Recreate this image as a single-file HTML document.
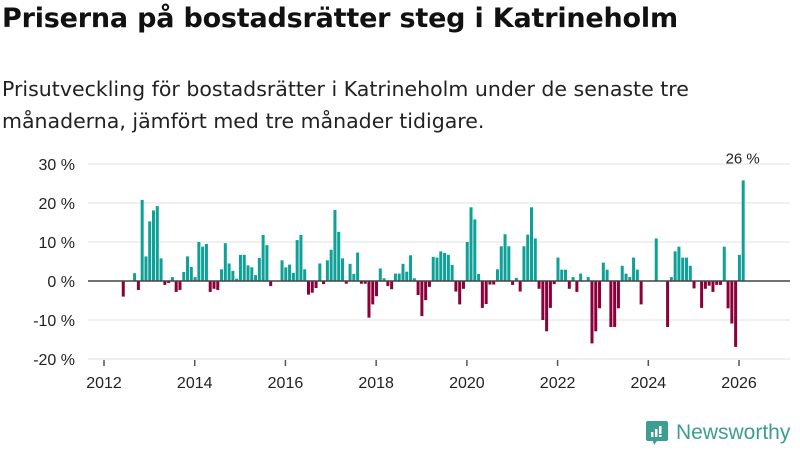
<!DOCTYPE html>
<html><head><meta charset="utf-8"><style>
body{margin:0;width:800px;height:450px;background:#fff;font-family:"DejaVu Sans","Liberation Sans",sans-serif;overflow:hidden;position:relative}
#title{position:absolute;left:2px;top:3px;font-size:27px;font-weight:bold;color:#111;margin:0;letter-spacing:-0.2px}
#sub{position:absolute;left:2px;top:73px;font-size:20.5px;line-height:32px;color:#222;margin:0;width:735px}
svg{position:absolute;left:0;top:0}
</style></head><body>
<h1 id="title">Priserna på bostadsrätter steg i Katrineholm</h1>
<p id="sub">Prisutveckling för bostadsrätter i Katrineholm under de senaste tre månaderna, jämfört med tre månader tidigare.</p>
<svg id="chart" width="800" height="450"></svg>
<script>
const startYear = 2012;
const values = [0,0,0,0,-4,0,0,2,-2.3,20.8,6.3,15.3,18.1,19.2,5.8,-1,-0.5,1,-2.8,-2.3,2.3,6.3,3.6,1,10,8.8,9.5,-2.8,-2,-2.3,3,9.7,4.5,2.6,0.6,6.7,6.7,4,3.5,1.5,5.9,11.8,9.2,-1.3,0,0,5.3,3.5,4.2,2.1,10.5,11.8,3,-3.5,-3,-1.8,4.5,-0.8,5.3,8,18.2,12.6,5.8,-0.7,4.4,1.8,7.3,-0.7,-0.7,-9.4,-6,-3.9,3.2,0.7,-1.3,-2.1,1.9,1.9,4.4,2.4,6.6,0.7,-3.6,-9,-4.9,-1.5,6.2,6,7.6,7.2,6.7,4.1,-2.7,-6,-2,10,18.9,15.8,1.8,-6.9,-5.9,-0.9,-0.9,3,8.9,12,8.9,-1,0.8,-2.7,8.9,11.9,18.9,10.9,-2,-10,-12.9,-6.9,-0.8,6,2.9,2.9,-2,1,-2.8,1.9,0,1,-16,-12.9,-7,4.7,2.9,-11.8,-11.8,-7,3.9,1.9,1,6,2.9,-6,0,0,0,10.9,0,0,-11.8,1,7.6,8.8,6,6,3.9,-1.9,0,-6.9,-2,-1.2,-2.8,-1,-1,8.8,-7,-10.9,-16.9,6.7,25.8];
const yTicks = [30,20,10,0,-10,-20];
const xTicks = [2012,2014,2016,2018,2020,2022,2024,2026];
const svg = document.getElementById('chart');
const NS = 'http://www.w3.org/2000/svg';
function y(v){return 281 - v*3.9;}
function x(yr){return 104 + (yr-2012)*45.36;}
function mk(tag, attrs){const e=document.createElementNS(NS,tag);for(const k in attrs)e.setAttribute(k,attrs[k]);svg.appendChild(e);return e;}
yTicks.forEach(t=>{
  const g = mk('line',{x1:88,x2:790,y1:y(t),y2:y(t),stroke:'#e0e0e0','stroke-width':1});
  
  
  const l = mk('text',{x:75,y:y(t)+6,'text-anchor':'end','font-size':16,fill:'#222','font-family':'Liberation Sans, sans-serif'});
  l.textContent = t + ' %';
  
  
});
xTicks.forEach(t=>{
  const tk = mk('line',{x1:x(t),x2:x(t),y1:360,y2:366,stroke:'#555','stroke-width':1.5});
  
  
  const l = mk('text',{x:x(t),y:388,'text-anchor':'middle','font-size':16,fill:'#222','font-family':'Liberation Sans, sans-serif'});
  l.textContent = t;
  
  
});
values.forEach((v,i)=>{
  if(v===0) return;
  const bx = x(startYear + (i+0.7)/12);
  const r = mk('rect',{x:bx,y:Math.min(y(v),y(0)),width:3,height:Math.abs(y(v)-y(0)),fill:v>0?'#0fa197':'#8c0039'});
  
  
});
const zl = mk('line',{x1:88,x2:790,y1:y(0),y2:y(0),stroke:'#444','stroke-width':1.5});


const li = values.length-1;
const lab = mk('text',{x:x(startYear+(li+0.7)/12)+1,y:y(values[li])-17,'text-anchor':'middle','font-size':15,fill:'#222','font-family':'Liberation Sans, sans-serif'});
lab.textContent = Math.round(values[li]) + ' %';


</script>
<div style="position:absolute;left:645px;top:420px;height:26px;display:flex;align-items:center">
<svg width="24" height="26" viewBox="0 0 24 26" style="position:static"><path d="M3 1h18a2 2 0 0 1 2 2v16a2 2 0 0 1-2 2H12l-3 4-1-4H3a2 2 0 0 1-2-2V3a2 2 0 0 1 2-2z" fill="#3a9e92"/><rect x="6" y="12" width="2.5" height="5" fill="#fff"/><rect x="10" y="9" width="2.5" height="8" fill="#fff"/><rect x="14" y="6" width="2.5" height="8" fill="#fff"/><rect x="14" y="15" width="2.5" height="2" fill="#fff"/></svg>
<span style="font-size:21px;color:#3a9e92;margin-left:7px;font-family:'Liberation Sans',sans-serif">Newsworthy</span>
</div>
</body></html>
